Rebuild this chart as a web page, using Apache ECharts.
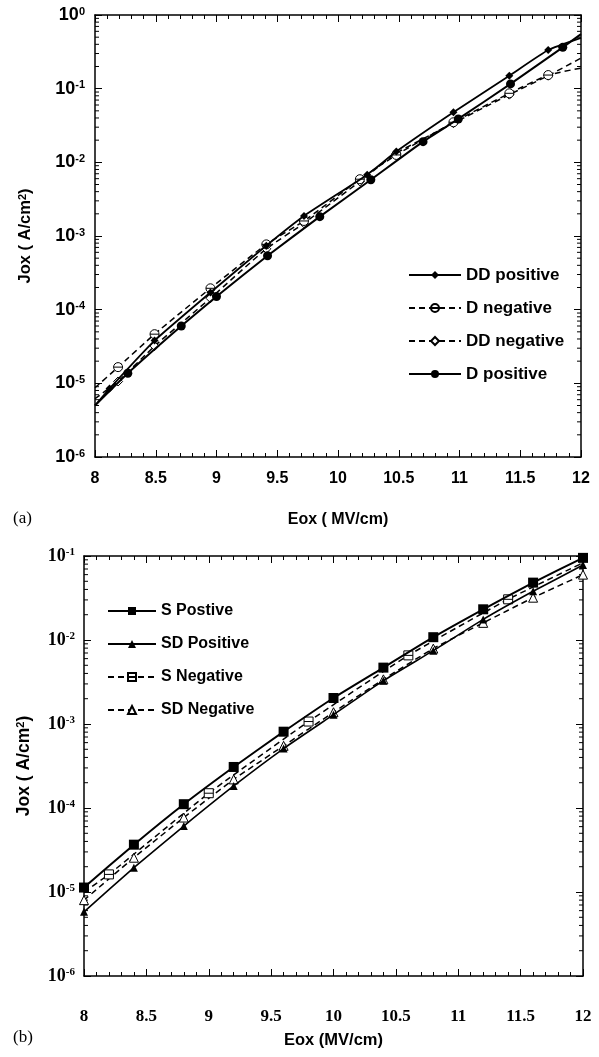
<!DOCTYPE html>
<html><head><meta charset="utf-8">
<script src="https://cdn.jsdelivr.net/npm/echarts@6/dist/echarts.min.js"></script>
<style>html,body{margin:0;padding:0;background:#fff}#c{width:599px;height:1057px}</style>
</head><body><div id="c"></div>
<script>
// ---------- DATA: panel (a) ----------
const ddPosX = [8.0, 8.12, 8.49, 8.95, 9.41, 9.72, 10.24, 10.48, 10.95, 11.41, 11.73, 12.0];
const ddPosY = [5.0e-6, 8.5e-6, 3.8e-5, 1.71e-4, 7.4e-4, 1.87e-3, 6.8e-3, 1.4e-2, 4.78e-2, 0.150, 0.335, 0.49];
const ddPosNoMark = [8.0, 12.0];

const dNegX = [8.0, 8.19, 8.49, 8.95, 9.41, 9.72, 10.18, 10.48, 10.95, 11.41, 11.73, 12.0];
const dNegY = [8.7e-6, 1.66e-5, 4.65e-5, 1.95e-4, 7.7e-4, 1.6e-3, 5.9e-3, 1.26e-2, 3.5e-2, 8.65e-2, 0.153, 0.19];
const dNegNoMark = [8.0, 12.0];

const ddNegX = [8.0, 8.19, 8.49, 8.95, 9.41, 9.72, 10.18, 10.48, 10.95, 11.41, 11.73, 12.0];
const ddNegY = [6.2e-6, 1.06e-5, 3.2e-5, 1.43e-4, 6.7e-4, 1.49e-3, 5.5e-3, 1.33e-2, 3.4e-2, 8.3e-2, 0.15, 0.26];
const ddNegNoMark = [8.0, 12.0];

const dPosX = [8.0, 8.27, 8.71, 9.0, 9.42, 9.85, 10.27, 10.70, 10.99, 11.42, 11.85, 12.0];
const dPosY = [5.0e-6, 1.37e-5, 6.0e-5, 1.51e-4, 5.4e-4, 1.83e-3, 5.8e-3, 1.91e-2, 3.88e-2, 0.116, 0.364, 0.55];
const dPosNoMark = [8.0, 12.0];

const namesA = ['DD positive', 'D negative', 'DD negative', 'D positive'];

// ---------- DATA: panel (b) ----------
const sPosX = [8.0, 8.4, 8.8, 9.2, 9.6, 10.0, 10.4, 10.8, 11.2, 11.6, 12.0];
const sPosY = [1.13e-5, 3.66e-5, 1.11e-4, 3.08e-4, 8.1e-4, 2.04e-3, 4.69e-3, 1.08e-2, 2.32e-2, 4.82e-2, 9.5e-2];

const sdPosX = [8.0, 8.4, 8.8, 9.2, 9.6, 10.0, 10.4, 10.8, 11.2, 11.6, 12.0];
const sdPosY = [5.8e-6, 1.95e-5, 6.1e-5, 1.83e-4, 5.1e-4, 1.29e-3, 3.28e-3, 7.46e-3, 1.76e-2, 3.8e-2, 7.8e-2];

const sNegX = [8.0, 8.2, 9.0, 9.8, 10.6, 11.4, 12.0];
const sNegY = [1.0e-5, 1.62e-5, 1.5e-4, 1.07e-3, 6.56e-3, 3.05e-2, 8.3e-2];
const sNegNoMark = [8.0, 12.0];

const sdNegX = [8.0, 8.4, 8.8, 9.2, 9.6, 10.0, 10.4, 10.8, 11.2, 11.6, 12.0];
const sdNegY = [8.0e-6, 2.56e-5, 7.7e-5, 2.19e-4, 5.5e-4, 1.38e-3, 3.4e-3, 7.9e-3, 1.6e-2, 3.19e-2, 6.0e-2];

const namesB = ['S Postive', 'SD Positive', 'S Negative', 'SD Negative'];

// axis ranges / tick labels
const xMin = 8, xMax = 12, xStep = 0.5;
const yDecadesA = [-6, -5, -4, -3, -2, -1, 0];
const yDecadesB = [-6, -5, -4, -3, -2, -1];

// ---------- BUILD ----------
const SANS = '"Liberation Sans", Arial, sans-serif';
const SERIF = '"Liberation Serif", "Times New Roman", serif';
const circLine = 'path://M1,5A4,4,0,1,1,9,5A4,4,0,1,1,1,5ZM1,5L9,5';
const sqLine = 'path://M1,1L9,1L9,9L1,9ZM1,5L9,5';

function pts(xs, ys, noMark) {
  noMark = noMark || [];
  return xs.map((x, i) => noMark.indexOf(x) >= 0 ? {value: [x, ys[i]], symbol: 'none'} : [x, ys[i]]);
}
function line(name, data, gi, o) {
  return {
    name, type: 'line', data, xAxisIndex: gi * 2, yAxisIndex: gi * 2,
    symbol: o.symbol, symbolSize: o.size, smooth: 0.15,
    lineStyle: {color: '#000', width: o.w, type: o.dash ? [6, 4] : 'solid'},
    itemStyle: {color: o.fill, borderColor: '#000', borderWidth: o.fill === '#fff' ? 1 : 0},
    z: o.z || 2, animation: false
  };
}
function minorVals(decs) {
  const out = [];
  for (let i = 0; i < decs.length - 1; i++) for (let k = 2; k <= 9; k++) out.push([xMin, k * Math.pow(10, decs[i])]);
  return out;
}
function minorSeries(gi, decs) {
  return {
    type: 'custom', xAxisIndex: gi * 2, yAxisIndex: gi * 2, data: minorVals(decs), silent: true, clip: false,
    encode: {x: 0, y: 1}, animation: false,
    renderItem: function (params, api) {
      const v = api.value(1);
      const a = api.coord([xMin, v]), b = api.coord([xMax, v]);
      return {type: 'group', children: [
        {type: 'line', shape: {x1: a[0], y1: a[1], x2: a[0] + 4, y2: a[1]}, style: {stroke: '#000', lineWidth: 1}},
        {type: 'line', shape: {x1: b[0] - 4, y1: b[1], x2: b[0], y2: b[1]}, style: {stroke: '#000', lineWidth: 1}}
      ]};
    }
  };
}
function xAxes(gi, font, fs, margin, nameGap, title, nameFs) {
  const base = {
    type: 'value', gridIndex: gi, min: xMin, max: xMax, interval: xStep,
    axisLine: {lineStyle: {color: '#000', width: 1.5}},
    axisTick: {inside: true, length: 7, lineStyle: {color: '#000', width: 1}},
    minorTick: {show: true, splitNumber: 5, length: 4, lineStyle: {color: '#000', width: 1}},
    splitLine: {show: false}
  };
  return [
    Object.assign({}, base, {position: 'bottom',
      axisLabel: {margin, color: '#000', fontFamily: font, fontWeight: 'bold', fontSize: fs},
      name: title, nameLocation: 'middle', nameGap,
      nameTextStyle: {color: '#000', fontFamily: SANS, fontWeight: 'bold', fontSize: nameFs}}),
    Object.assign({}, base, {position: 'top', axisLabel: {show: false}})
  ];
}
function yAxes(gi, decs, font, margin, nameGap, nameFs) {
  const lo = Math.pow(10, decs[0]), hi = Math.pow(10, decs[decs.length - 1]);
  const base = {
    type: 'log', logBase: 10, gridIndex: gi, min: lo, max: hi, splitNumber: decs.length - 1,
    axisLine: {lineStyle: {color: '#000', width: 1.5}},
    axisTick: {inside: true, length: 7, lineStyle: {color: '#000', width: 1}},
    splitLine: {show: false}
  };
  return [
    Object.assign({}, base, {position: 'left',
      axisLabel: {margin, color: '#000',
        formatter: v => '{b|10}{s|' + Math.round(Math.log10(v)) + '}',
        rich: {
          b: {fontFamily: font, fontWeight: 'bold', fontSize: 18, color: '#000'},
          s: {fontFamily: font, fontWeight: 'bold', fontSize: 11, color: '#000', verticalAlign: 'top'}
        }},
      name: 'Jox ( A/cm{s|2})', nameLocation: 'middle', nameGap,
      nameTextStyle: {color: '#000', fontFamily: SANS, fontWeight: 'bold', fontSize: nameFs,
        rich: {s: {fontFamily: SANS, fontWeight: 'bold', fontSize: 11, color: '#000', verticalAlign: 'top'}}}}),
    Object.assign({}, base, {position: 'right', axisLabel: {show: false}})
  ];
}

const series = [
  minorSeries(0, yDecadesA),
  line(namesA[2], pts(ddNegX, ddNegY, ddNegNoMark), 0, {symbol: 'diamond', size: 9, fill: '#fff', w: 1.5, dash: true, z: 3}),
  line(namesA[1], pts(dNegX, dNegY, dNegNoMark), 0, {symbol: circLine, size: 9, fill: '#fff', w: 1.5, dash: true, z: 3}),
  line(namesA[0], pts(ddPosX, ddPosY, ddPosNoMark), 0, {symbol: 'diamond', size: 8, fill: '#000', w: 1.8, z: 4}),
  line(namesA[3], pts(dPosX, dPosY, dPosNoMark), 0, {symbol: 'circle', size: 9, fill: '#000', w: 2, z: 4}),
  minorSeries(1, yDecadesB),
  line(namesB[2], pts(sNegX, sNegY, sNegNoMark), 1, {symbol: sqLine, size: 9, fill: '#fff', w: 1.5, dash: true, z: 3}),
  line(namesB[3], pts(sdNegX, sdNegY), 1, {symbol: 'triangle', size: 9, fill: '#fff', w: 1.5, dash: true, z: 3}),
  line(namesB[0], pts(sPosX, sPosY), 1, {symbol: 'rect', size: 10, fill: '#000', w: 2, z: 4}),
  line(namesB[1], pts(sdPosX, sdPosY), 1, {symbol: 'triangle', size: 8, fill: '#000', w: 1.6, z: 4})
];

const legendText = {color: '#000', fontFamily: SANS, fontWeight: 'bold', fontSize: 17, lineHeight: 20};
const chart = echarts.init(document.getElementById('c'), null, {renderer: 'canvas'});
chart.setOption({
  animation: false,
  backgroundColor: '#fff',
  grid: [
    {left: 95, top: 15, width: 486, height: 442},
    {left: 84, top: 556, width: 499, height: 420}
  ],
  xAxis: xAxes(0, SANS, 16, 14, 55, 'Eox ( MV/cm)', 16).concat(xAxes(1, SERIF, 17, 32, 56, 'Eox (MV/cm)', 16.5)),
  yAxis: yAxes(0, yDecadesA, SANS, 10, 61, 16.5).concat(yAxes(1, yDecadesB, SERIF, 9, 51, 17.5)),
  legend: [
    {data: namesA, orient: 'vertical', left: 408, top: 265, padding: 0, itemWidth: 52, itemHeight: 10, itemGap: 13,
      textStyle: legendText, selectedMode: false},
    {data: namesB, orient: 'vertical', left: 107, top: 601, padding: 0, itemWidth: 48, itemHeight: 10, itemGap: 13,
      textStyle: Object.assign({}, legendText, {fontSize: 16}), selectedMode: false}
  ],
  graphic: [
    {type: 'text', left: 13, top: 510, style: {text: '(a)', font: '17px "Liberation Serif", serif', fill: '#000'}},
    {type: 'text', left: 13, top: 1029, style: {text: '(b)', font: '17px "Liberation Serif", serif', fill: '#000'}}
  ],
  series
});
</script></body></html>
